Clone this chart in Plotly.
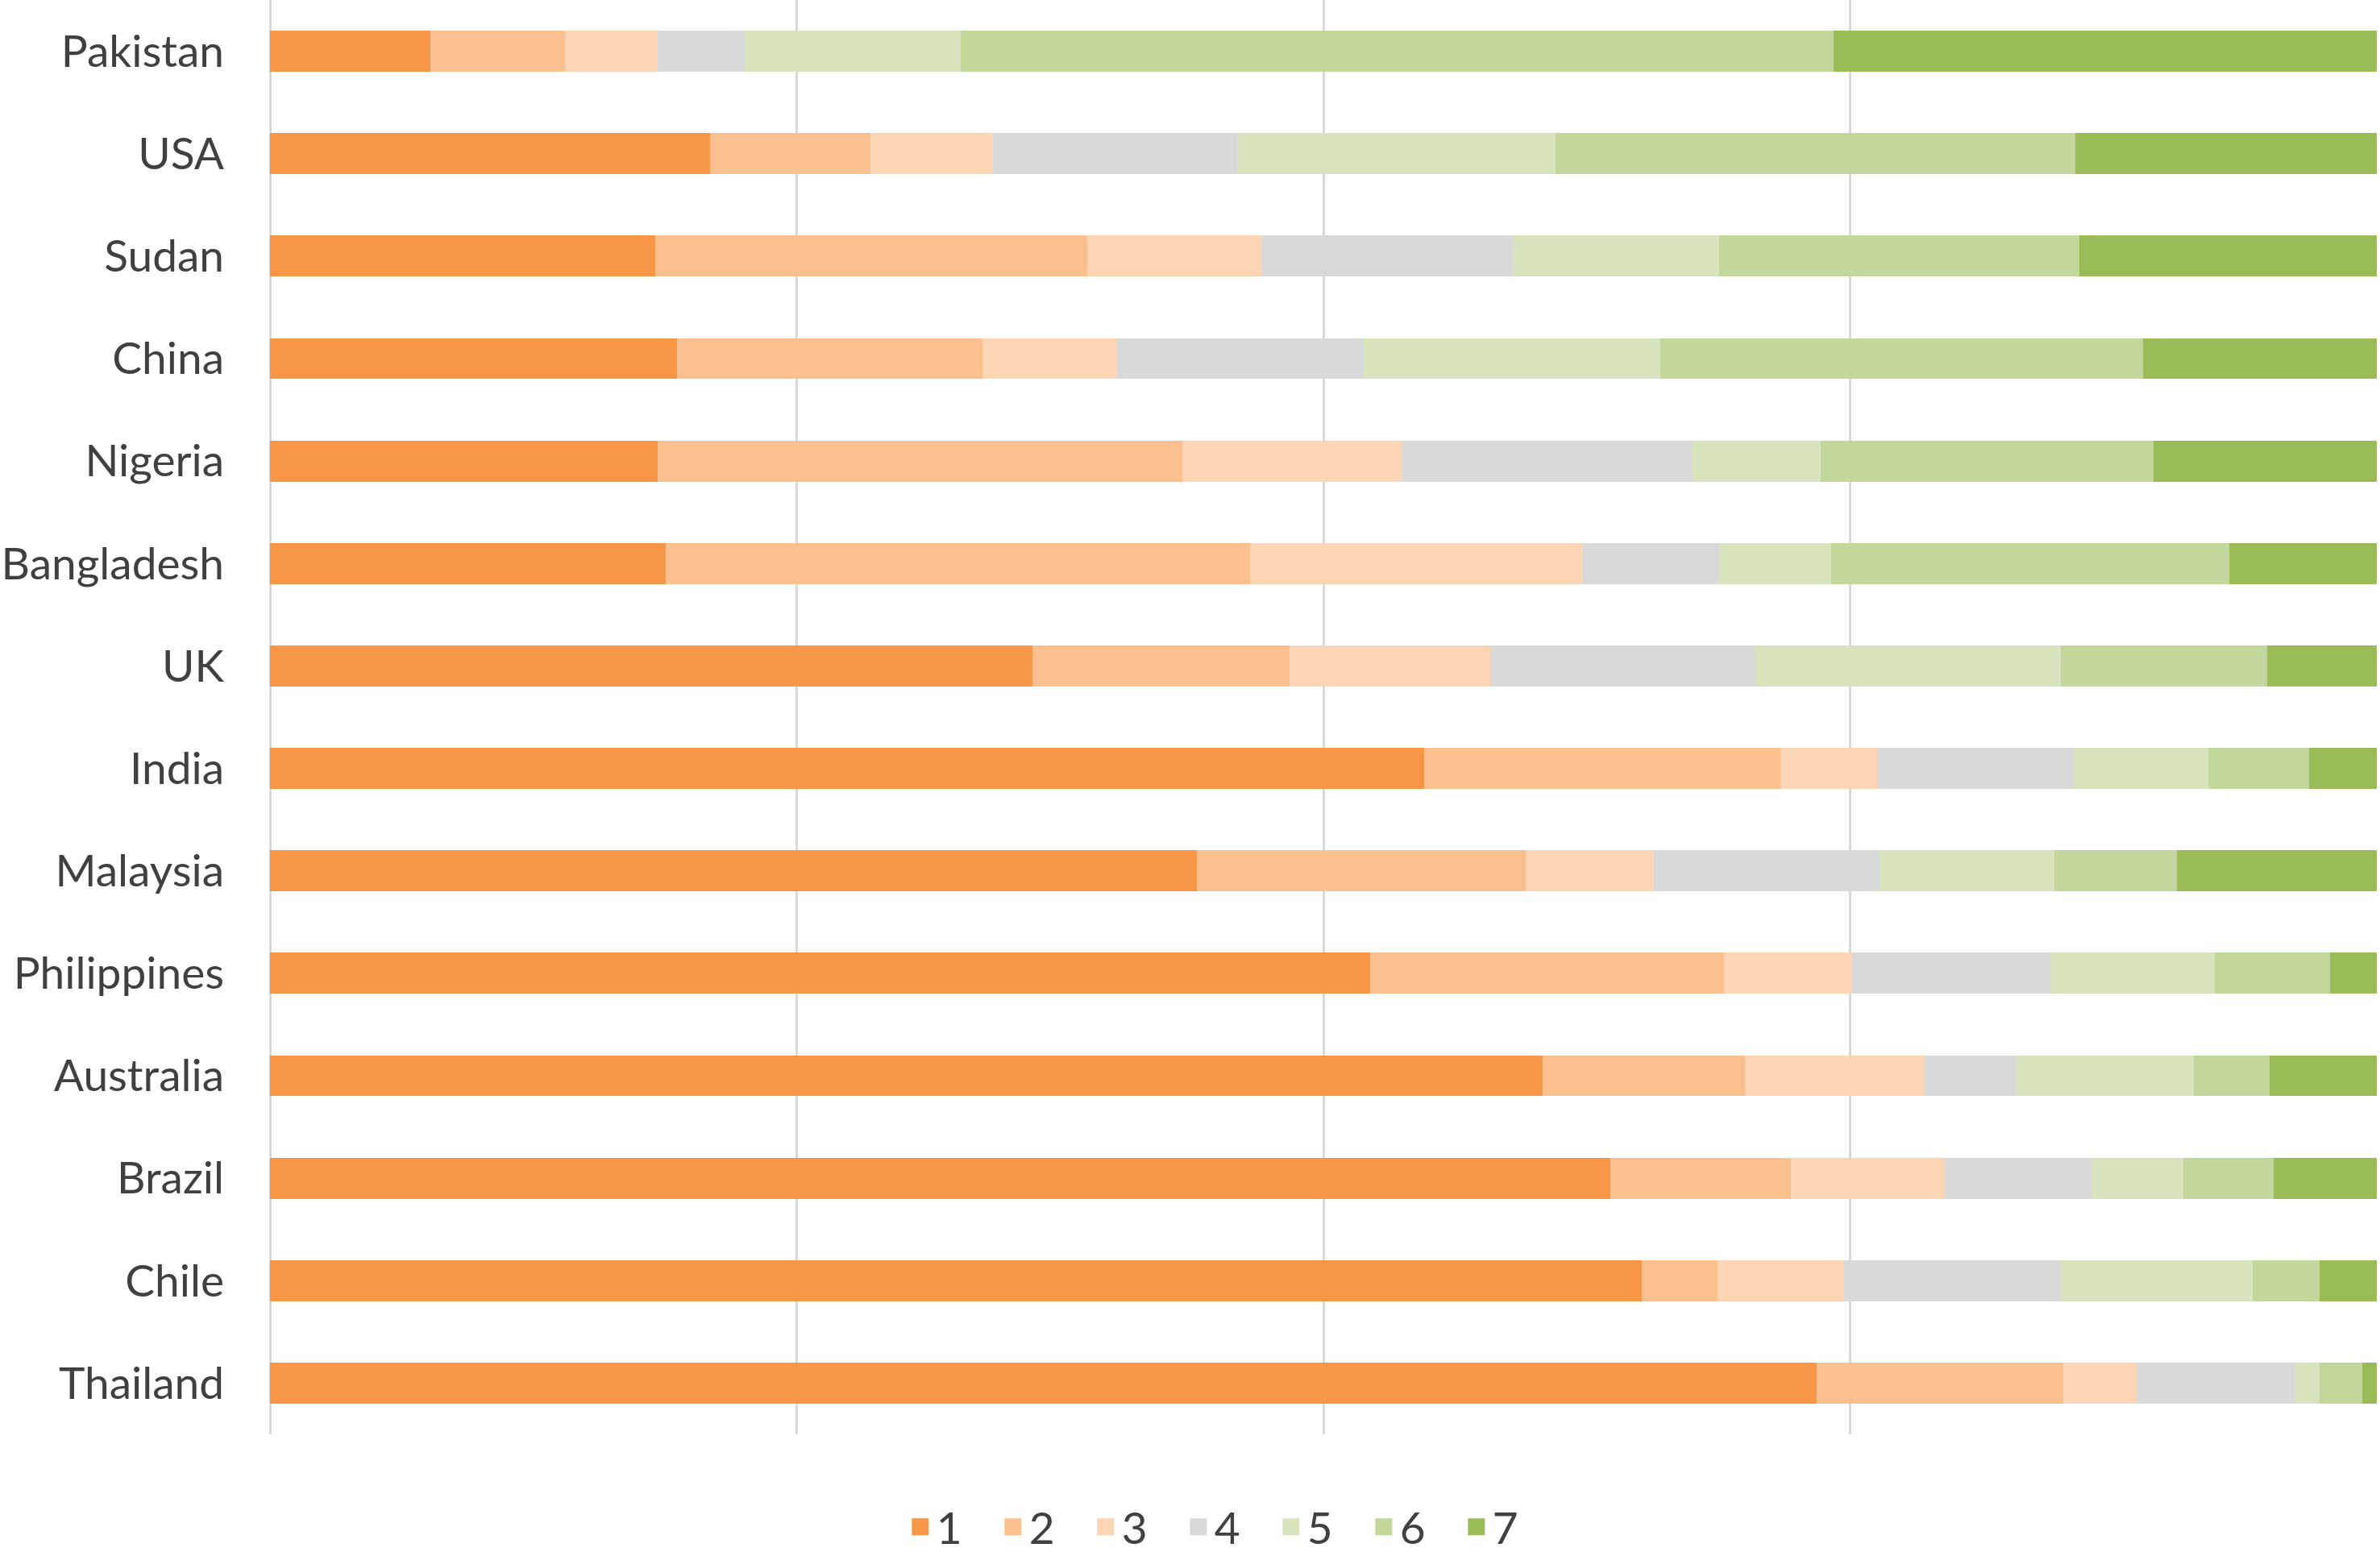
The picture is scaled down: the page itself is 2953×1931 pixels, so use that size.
import plotly.graph_objects as go

countries = ["Pakistan", "USA", "Sudan", "China", "Nigeria", "Bangladesh", "UK",
             "India", "Malaysia", "Philippines", "Australia", "Brazil", "Chile", "Thailand"]

series_names = ["1", "2", "3", "4", "5", "6", "7"]

s1 = [7.6, 20.9, 18.3, 19.3, 18.4, 18.8, 36.2, 54.8, 44.0, 52.2, 60.4, 63.6, 65.1, 73.4]
s2 = [6.4, 7.6, 20.5, 14.5, 24.9, 27.7, 12.2, 16.9, 15.6, 16.8, 9.6, 8.6, 3.6, 11.7]
s3 = [4.4, 5.8, 8.3, 6.4, 10.4, 15.8, 9.5, 4.6, 6.1, 6.1, 8.5, 7.3, 6.0, 3.5]
s4 = [4.1, 11.6, 11.9, 11.7, 13.8, 6.5, 12.6, 9.3, 10.7, 9.4, 4.4, 7.0, 10.3, 7.5]
s5 = [10.3, 15.1, 9.8, 14.1, 6.1, 5.3, 14.5, 6.4, 8.3, 7.8, 8.4, 4.3, 9.1, 1.2]
s6 = [41.4, 24.7, 17.1, 22.9, 15.8, 18.9, 9.8, 4.8, 5.8, 5.5, 3.6, 4.3, 3.2, 2.0]
s7 = [25.8, 14.3, 14.1, 11.2, 10.7, 7.0, 5.2, 3.2, 9.5, 2.2, 5.1, 4.9, 2.7, 0.7]

colors = ["#F79646", "#FAC090", "#FCD5B5", "#D9D9D9", "#D7E4BD", "#C3D69B", "#9BBB59"]

fig = go.Figure()
for name, vals, col in zip(series_names, [s1, s2, s3, s4, s5, s6, s7], colors):
    fig.add_trace(go.Bar(
        y=countries, x=vals, name=name, orientation="h",
        marker=dict(color=col, line=dict(width=0)),
        legendgroup=name, showlegend=False,
    ))
# legend entries (larger square swatches than the bar legend glyph allows)
for name, col in zip(series_names, colors):
    fig.add_trace(go.Scatter(
        x=[None], y=[None], mode="markers", name=name, legendgroup=name,
        marker=dict(symbol="square", size=16, color=col, line=dict(width=5, color=col)),
        showlegend=True, hoverinfo="skip",
    ))

W, H = 2953, 1931
ml, mr, mt, mb = 335, 4, 0, 151
fig.update_layout(
    width=W, height=H,
    barmode="stack", bargap=0.6,
    margin=dict(l=ml, r=mr, t=mt, b=mb, pad=0),
    paper_bgcolor="white", plot_bgcolor="white",
    font=dict(family="Lato, 'Open Sans', sans-serif", size=55, color="#404040"),
    showlegend=True,
    legend=dict(
        orientation="h", xref="paper", x=0.455, xanchor="center",
        yref="container", y=0.0186, yanchor="middle",
        font=dict(size=55, color="#404040"),
        entrywidth=70, entrywidthmode="pixels",
        traceorder="normal", bgcolor="rgba(0,0,0,0)",
    ),
    xaxis=dict(
        range=[0, 100], tickmode="linear", tick0=0, dtick=25,
        showticklabels=False, ticks="",
        showgrid=True, gridcolor="#D9D9D9", gridwidth=3,
        zeroline=True, zerolinecolor="#D9D9D9", zerolinewidth=3,
        showline=False, fixedrange=True,
    ),
    yaxis=dict(
        categoryorder="array", categoryarray=countries,
        autorange="reversed", ticks="", showgrid=False, zeroline=False,
        showline=False, ticklabelstandoff=56,
        tickfont=dict(size=55, color="#404040"),
    ),
)

fig.write_html("out.html", config={"displayModeBar": False},
               post_script="document.body.style.margin='0';")
